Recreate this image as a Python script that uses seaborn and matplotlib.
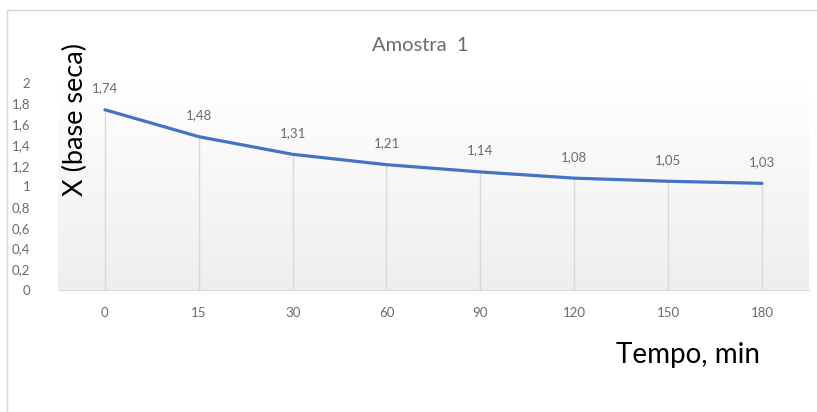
import numpy as np
import pandas as pd
import matplotlib
matplotlib.use("Agg")
import matplotlib.pyplot as plt
import seaborn as sns

sns.set_style("white")
plt.rcParams['font.family'] = ['Lato', 'DejaVu Sans']

# data
tempo = ["0", "15", "30", "60", "90", "120", "150", "180"]
x_base_seca = [1.74, 1.48, 1.31, 1.21, 1.14, 1.08, 1.05, 1.03]
y_ticks = [0, 0.2, 0.4, 0.6, 0.8, 1.0, 1.2, 1.4, 1.6, 1.8, 2.0]

df = pd.DataFrame({"Tempo": tempo, "X": x_base_seca})

fig = plt.figure(figsize=(8.17, 4.12), dpi=100)
ax = fig.add_axes([0.071, 0.296, 0.919, 0.503])

# gradient background, white at top to light grey at bottom
grad = np.linspace(1.0, 0.0, 256).reshape(-1, 1)
ax.imshow(grad, cmap=matplotlib.colors.LinearSegmentedColormap.from_list(
    "bg", ["#eeeeee", "#ffffff"]), aspect="auto",
    extent=[-0.5, len(tempo) - 0.5, 0, 2], zorder=0, origin="upper")

# drop lines from axis to each point
ax.vlines(range(len(tempo)), 0, x_base_seca, color="#d9d9d9", lw=1, zorder=1)

sns.lineplot(data=df, x="Tempo", y="X", ax=ax, color="#4472C4", lw=2.3,
             sort=False, zorder=3)

for i, v in enumerate(x_base_seca):
    ax.annotate(f"{v:.2f}".replace(".", ","), (i, v), xytext=(0, 11),
                textcoords="offset points", ha="center", va="bottom",
                fontsize=9.5, color="#6b6b6b")

ax.set_xlim(-0.5, len(tempo) - 0.5)
ax.set_ylim(0, 2)
ax.set_yticks(y_ticks)
ax.set_yticklabels([f"{t:g}".replace(".", ",") for t in y_ticks])
ax.tick_params(axis="both", length=0, labelsize=9.5, labelcolor="#6b6b6b")
ax.tick_params(axis="x", pad=12)
ax.tick_params(axis="y", pad=20)
for s in ["top", "right", "left"]:
    ax.spines[s].set_visible(False)
ax.spines["bottom"].set_color("#d9d9d9")
ax.set_xlabel("")
ax.set_ylabel("")

fig.text(0.514, 0.89, "Amostra  1", ha="center", va="center",
         fontsize=14.5, color="#6b6b6b")
fig.text(0.092, 0.71, "X (base seca)", rotation=90, ha="center", va="center",
         fontsize=19.5, color="black")
fig.text(0.842, 0.138, "Tempo, min", ha="center", va="center",
         fontsize=20, color="black")

# chart frame (top and left edges visible)
fig.add_artist(plt.Line2D([0.0086, 1.0], [0.976, 0.976], color="#d9d9d9", lw=1))
fig.add_artist(plt.Line2D([0.0086, 0.0086], [0.0, 0.976], color="#d9d9d9", lw=1))

fig.savefig("out.png", dpi=100)
